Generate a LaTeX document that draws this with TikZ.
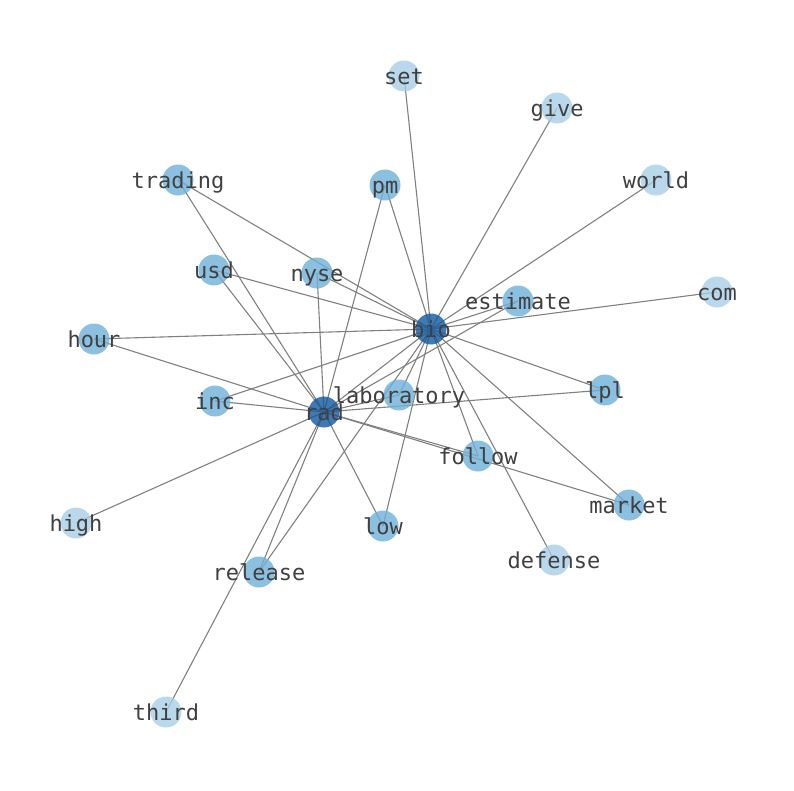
\documentclass[tikz,border=0pt]{standalone}
\usepackage{fontspec}
\newfontfamily\labelfont{DejaVu Sans Mono}
\definecolor{nodedark}{RGB}{18,88,158}
\definecolor{nodemid}{RGB}{111,176,216}
\definecolor{nodelight}{RGB}{167,206,230}
\definecolor{labelgray}{RGB}{64,64,64}
\definecolor{edgegray}{RGB}{128,128,128}
\tikzset{
  vtx/.style={circle, minimum size=31pt, inner sep=0pt, fill opacity=0.8, text opacity=1},
  hub/.style={vtx, fill=nodedark},
  mid/.style={vtx, fill=nodemid},
  leaf/.style={vtx, fill=nodelight},
  lbl/.style={font=\labelfont\fontsize{22}{22}\selectfont, text=labelgray, inner sep=0pt, text height=18pt, text depth=2pt},
  edge/.style={draw=edgegray, line width=1.1pt}
}
\begin{document}
\begin{tikzpicture}[x=1pt,y=-1pt]
\useasboundingbox (0,0) rectangle (794,790);
% coordinates
\coordinate (set) at (404,76);
\coordinate (give) at (557,108);
\coordinate (trading) at (178,180);
\coordinate (pm) at (385,185);
\coordinate (world) at (656,180);
\coordinate (usd) at (214,270);
\coordinate (nyse) at (317,273);
\coordinate (estimate) at (518,301);
\coordinate (com) at (717,292);
\coordinate (bio) at (431,329);
\coordinate (hour) at (94,339);
\coordinate (inc) at (215,401);
\coordinate (laboratory) at (399,395);
\coordinate (lpl) at (605,390);
\coordinate (rad) at (324,412);
\coordinate (follow) at (478,456);
\coordinate (market) at (629,505);
\coordinate (high) at (76,523);
\coordinate (low) at (383,526);
\coordinate (defense) at (554,560);
\coordinate (release) at (259,572);
\coordinate (third) at (166,712);
% edges
\foreach \n in {set,give,world,com,estimate,pm,trading,usd,nyse,hour,inc,laboratory,lpl,follow,market,low,defense,release,rad}
  \draw[edge] (bio) -- (\n);
\foreach \n in {estimate,pm,trading,usd,nyse,hour,inc,laboratory,lpl,follow,market,low,release,high,third}
  \draw[edge] (rad) -- (\n);
% nodes
\foreach \n in {set,give,world,com,high,defense,third}
  \node[leaf] (\n-c) at (\n) {};
\foreach \n in {trading,pm,usd,nyse,estimate,hour,inc,laboratory,lpl,follow,market,low,release}
  \node[mid] (\n-c) at (\n) {};
\foreach \n in {bio,rad}
  \node[hub] (\n-c) at (\n) {};
% labels
\foreach \n in {set,give,trading,pm,world,usd,nyse,estimate,com,bio,hour,inc,laboratory,lpl,rad,follow,market,high,low,defense,release,third}
  \node[lbl] (\n-t) at (\n) {\n};
\end{tikzpicture}
\end{document}
